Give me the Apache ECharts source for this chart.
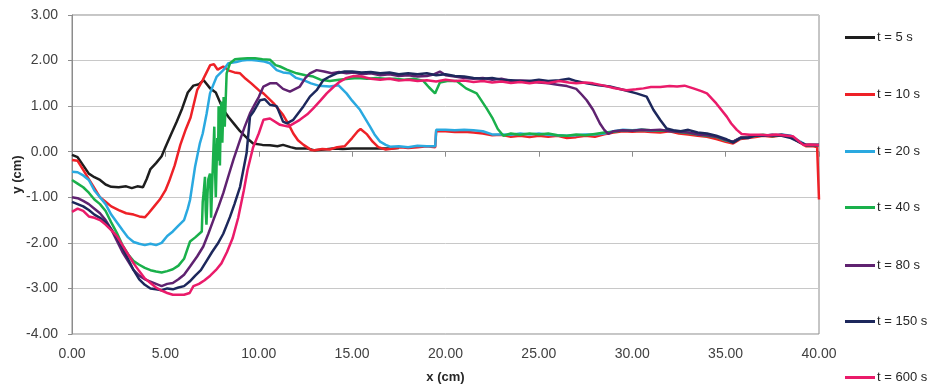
<!DOCTYPE html>
<html>
<head>
<meta charset="utf-8">
<script src="https://cdn.jsdelivr.net/npm/echarts/dist/echarts.min.js"></script>
<style>html,body{margin:0;padding:0;background:#fff}#c{width:932px;height:385px}</style>
</head>
<body>
<div id="c"></div>
<script>
const seriesNames = ['t = 5 s','t = 10 s','t = 20 s','t = 40 s','t = 80 s','t = 150 s','t = 600 s'];
const xTicks = [0,5,10,15,20,25,30,35,40];
const yTicks = [-4,-3,-2,-1,0,1,2,3];

const t5 = [[0,-0.07],[0.3,-0.12],[0.6,-0.3],[0.9,-0.48],[1.2,-0.56],[1.5,-0.62],[1.8,-0.72],[2.1,-0.77],[2.5,-0.78],[2.9,-0.76],[3.2,-0.8],[3.5,-0.76],[3.8,-0.78],[4.0,-0.6],[4.2,-0.38],[4.5,-0.25],[4.8,-0.1],[5.0,0.1],[5.3,0.38],[5.6,0.65],[5.9,0.95],[6.2,1.3],[6.5,1.45],[6.8,1.48],[7.05,1.57],[7.4,1.39],[7.7,1.3],[8.1,0.92],[8.4,0.75],[8.7,0.6],[9.0,0.45],[9.2,0.37],[9.5,0.25],[9.7,0.18],[10.2,0.15],[10.6,0.14],[11.0,0.12],[11.3,0.15],[11.7,0.1],[12.0,0.07],[12.6,0.07],[13.0,0.03],[13.5,0.05],[14.0,0.07],[14.5,0.06],[15,0.07],[16,0.07],[17,0.07],[17.5,0.08]];

const t10 = [[0,-0.18],[0.3,-0.2],[0.6,-0.4],[0.9,-0.6],[1.2,-0.8],[1.5,-1.0],[1.8,-1.1],[2.1,-1.2],[2.5,-1.28],[2.9,-1.35],[3.3,-1.38],[3.6,-1.42],[3.9,-1.44],[4.1,-1.35],[4.4,-1.2],[4.7,-1.05],[5.0,-0.85],[5.2,-0.65],[5.5,-0.3],[5.8,0.15],[6.1,0.5],[6.35,0.75],[6.7,1.35],[7.0,1.57],[7.4,1.9],[7.6,1.92],[7.8,1.8],[8.1,1.87],[8.4,1.78],[8.7,1.74],[9.0,1.72],[9.3,1.6],[9.6,1.5],[10.0,1.35],[10.25,1.28],[10.5,1.18],[10.8,1.06],[11.3,0.81],[11.6,0.6],[11.85,0.4],[12.1,0.25],[12.4,0.15],[12.8,0.04],[13.0,0.03],[13.4,0.06],[13.8,0.05],[14.2,0.1],[14.6,0.12],[15.0,0.3],[15.3,0.45],[15.45,0.5],[15.8,0.38],[16.1,0.22],[16.4,0.1],[16.8,0.05],[17.2,0.07],[17.6,0.1],[18.0,0.08],[18.5,0.1],[19.0,0.12],[19.45,0.1],[19.5,0.45],[20,0.45],[20.5,0.43],[21,0.44],[21.5,0.42],[22,0.4],[22.5,0.36],[23,0.37],[23.5,0.33],[24,0.35],[24.5,0.32],[25,0.35],[25.5,0.33],[26,0.35],[26.5,0.3],[27,0.32],[27.5,0.35],[28,0.33],[28.5,0.38],[29,0.42],[29.5,0.45],[30,0.44],[30.5,0.45],[31,0.43],[31.5,0.42],[32,0.45],[32.5,0.4],[33,0.38],[33.5,0.35],[34,0.33],[34.5,0.28],[35,0.22],[35.4,0.18],[35.8,0.28],[36.2,0.3],[36.6,0.32],[37,0.35],[37.5,0.33],[38,0.36],[38.5,0.32],[39,0.2],[39.3,0.12],[39.7,0.12],[39.9,0.1],[40,-1.05]];

const t20 = [[0,-0.44],[0.3,-0.45],[0.6,-0.52],[0.9,-0.62],[1.2,-0.85],[1.5,-1.0],[1.8,-1.15],[2.1,-1.38],[2.4,-1.55],[2.7,-1.72],[3.0,-1.88],[3.3,-1.98],[3.6,-2.02],[3.9,-2.05],[4.2,-2.02],[4.5,-2.05],[4.8,-2.0],[5.1,-1.85],[5.4,-1.75],[5.7,-1.62],[6.0,-1.5],[6.2,-1.25],[6.32,-1.06],[6.59,-0.33],[6.85,0.19],[7.0,0.4],[7.21,0.84],[7.39,1.28],[7.55,1.45],[7.75,1.65],[8.1,1.79],[8.37,1.94],[8.8,1.97],[9.1,2.0],[9.5,2.02],[9.9,2.0],[10.3,1.98],[10.6,1.94],[10.96,1.79],[11.3,1.74],[11.67,1.72],[12.0,1.62],[12.4,1.57],[12.8,1.5],[13.2,1.45],[13.8,1.43],[14.26,1.46],[14.7,1.28],[15.0,1.12],[15.42,0.92],[15.96,0.55],[16.2,0.38],[16.5,0.22],[16.8,0.15],[17.03,0.11],[17.5,0.12],[18,0.1],[18.5,0.13],[19,0.12],[19.45,0.12],[19.5,0.48],[20,0.48],[20.5,0.47],[21,0.48],[21.5,0.47],[22,0.45],[22.5,0.38],[23,0.38],[23.5,0.37],[24,0.4],[24.5,0.38],[25,0.4],[25.5,0.37],[26,0.36],[26.5,0.35],[27,0.36],[27.5,0.38],[28,0.38],[28.5,0.4],[29,0.45],[29.5,0.48],[30,0.47],[30.5,0.48],[31,0.46],[31.5,0.47],[32,0.47],[32.5,0.44],[33,0.42],[33.5,0.38],[34,0.36],[34.5,0.33],[35,0.25],[35.4,0.22],[35.8,0.3],[36.2,0.32],[36.6,0.35],[37,0.36],[37.5,0.35],[38,0.38],[38.5,0.35],[39,0.22],[39.3,0.15],[39.7,0.15],[40,0.15]];

const t40 = [[0,-0.62],[0.3,-0.7],[0.6,-0.78],[0.9,-0.9],[1.2,-1.05],[1.5,-1.15],[1.8,-1.3],[2.1,-1.55],[2.4,-1.78],[2.7,-2.05],[3.0,-2.25],[3.3,-2.4],[3.6,-2.48],[3.9,-2.55],[4.2,-2.6],[4.5,-2.63],[4.8,-2.65],[5.1,-2.62],[5.4,-2.58],[5.7,-2.5],[6.0,-2.35],[6.32,-1.97],[6.6,-1.88],[6.95,-1.75],[7.0,-1.1],[7.05,-0.9],[7.12,-0.55],[7.16,-1.3],[7.2,-1.6],[7.26,-0.9],[7.3,-0.6],[7.39,-0.48],[7.45,-1.45],[7.5,-0.8],[7.55,-0.2],[7.62,0.55],[7.66,-0.4],[7.7,-1.0],[7.78,0.3],[7.82,-0.2],[7.85,1.0],[7.92,-0.3],[7.96,0.6],[8.0,1.1],[8.05,0.2],[8.12,1.2],[8.18,0.55],[8.28,1.72],[8.46,1.94],[8.73,2.03],[9.0,2.04],[9.4,2.05],[9.8,2.05],[10.2,2.03],[10.6,2.02],[10.9,1.9],[11.14,1.87],[11.5,1.8],[12.03,1.72],[12.5,1.68],[12.92,1.65],[13.3,1.58],[13.8,1.55],[14.3,1.58],[14.8,1.6],[15.3,1.62],[15.8,1.6],[16.3,1.62],[16.8,1.6],[17.3,1.6],[17.8,1.58],[18.3,1.6],[18.8,1.56],[19.1,1.42],[19.44,1.28],[19.7,1.52],[20.1,1.55],[20.6,1.55],[21.1,1.39],[21.67,1.28],[22.2,0.95],[22.5,0.75],[22.8,0.5],[23.1,0.35],[23.5,0.4],[24,0.37],[24.5,0.4],[25,0.38],[25.5,0.4],[26,0.36],[26.5,0.35],[27,0.38],[27.5,0.36],[28,0.39],[28.5,0.42],[29,0.44],[29.5,0.47],[30,0.46],[30.5,0.48],[31,0.47],[31.5,0.46],[32,0.46],[32.5,0.43],[33,0.41],[33.5,0.38],[34,0.35],[34.5,0.32],[35,0.25],[35.4,0.22],[35.8,0.3],[36.2,0.33],[36.6,0.35],[37,0.37],[37.5,0.34],[38,0.37],[38.5,0.33],[39,0.2],[39.3,0.15],[40,0.15]];

const t80 = [[0,-1.0],[0.3,-1.02],[0.6,-1.08],[0.9,-1.15],[1.2,-1.25],[1.5,-1.35],[1.8,-1.5],[2.1,-1.7],[2.4,-1.95],[2.7,-2.2],[3.0,-2.4],[3.3,-2.6],[3.6,-2.72],[3.9,-2.8],[4.2,-2.85],[4.5,-2.9],[4.8,-2.95],[5.1,-2.9],[5.4,-2.88],[5.7,-2.8],[6.0,-2.7],[6.32,-2.52],[6.7,-2.3],[7.03,-2.08],[7.3,-1.8],[7.57,-1.5],[7.85,-1.2],[8.1,-0.91],[8.4,-0.5],[8.64,-0.18],[9.0,0.26],[9.25,0.55],[9.53,0.84],[9.8,1.05],[10.0,1.2],[10.25,1.43],[10.6,1.5],[10.96,1.5],[11.3,1.38],[11.67,1.32],[12.2,1.43],[12.5,1.62],[12.74,1.72],[13.1,1.79],[13.5,1.76],[13.9,1.72],[14.3,1.75],[14.7,1.72],[15.1,1.74],[15.5,1.7],[16,1.72],[16.5,1.68],[17,1.7],[17.5,1.66],[18,1.68],[18.5,1.65],[19,1.66],[19.4,1.7],[19.7,1.76],[20,1.68],[20.5,1.65],[21,1.62],[21.5,1.6],[22,1.62],[22.5,1.58],[23,1.6],[23.5,1.55],[24,1.56],[24.5,1.55],[25,1.52],[25.5,1.5],[26,1.47],[26.5,1.44],[27,1.38],[27.3,1.25],[27.56,1.13],[27.9,0.92],[28.27,0.62],[28.5,0.48],[28.72,0.39],[29,0.45],[29.5,0.47],[30,0.46],[30.5,0.48],[31,0.47],[31.5,0.48],[32,0.45],[32.5,0.44],[33,0.42],[33.5,0.38],[34,0.36],[34.5,0.33],[35,0.26],[35.4,0.22],[35.8,0.31],[36.2,0.32],[36.6,0.36],[37,0.36],[37.5,0.35],[38,0.37],[38.5,0.34],[39,0.2],[39.3,0.15],[40,0.15]];

const t150 = [[0,-1.1],[0.3,-1.15],[0.6,-1.2],[0.9,-1.28],[1.2,-1.38],[1.5,-1.45],[1.8,-1.55],[2.1,-1.7],[2.4,-1.88],[2.7,-2.1],[3.0,-2.35],[3.3,-2.6],[3.6,-2.8],[3.9,-2.92],[4.2,-3.0],[4.5,-3.02],[4.8,-3.04],[5.1,-3.0],[5.4,-3.02],[5.7,-2.98],[6.0,-2.95],[6.3,-2.85],[6.6,-2.72],[6.9,-2.6],[7.2,-2.4],[7.5,-2.2],[7.8,-2.02],[8.1,-1.8],[8.46,-1.43],[8.7,-1.15],[9.0,-0.77],[9.35,-0.03],[9.53,0.77],[9.75,0.9],[10.07,1.13],[10.33,1.15],[10.6,1.03],[10.96,1.0],[11.3,0.66],[11.5,0.62],[11.85,0.7],[12.4,1.0],[12.74,1.21],[13.1,1.35],[13.46,1.57],[13.8,1.65],[14.17,1.72],[14.6,1.76],[15,1.76],[15.5,1.74],[16,1.75],[16.5,1.72],[17,1.74],[17.5,1.7],[18,1.72],[18.5,1.7],[19,1.72],[19.5,1.68],[20,1.7],[20.5,1.66],[21,1.65],[21.5,1.62],[22,1.6],[22.5,1.62],[23,1.58],[23.5,1.57],[24,1.55],[24.5,1.55],[25,1.58],[25.5,1.55],[26.1,1.57],[26.6,1.6],[27,1.55],[27.56,1.5],[28.2,1.46],[28.8,1.43],[29.5,1.36],[30.23,1.28],[30.77,1.21],[31.13,0.92],[31.49,0.7],[31.84,0.51],[32.2,0.47],[32.6,0.45],[33,0.48],[33.5,0.42],[34,0.4],[34.5,0.35],[35,0.28],[35.4,0.2],[35.8,0.3],[36.2,0.3],[36.6,0.36],[37,0.35],[37.5,0.37],[38,0.35],[38.5,0.3],[39,0.2],[39.3,0.15],[40,0.15]];

const t600 = [[0,-1.32],[0.3,-1.25],[0.6,-1.3],[0.9,-1.42],[1.2,-1.45],[1.5,-1.5],[1.8,-1.6],[2.1,-1.72],[2.4,-1.85],[2.7,-2.05],[3.0,-2.25],[3.3,-2.45],[3.6,-2.62],[3.9,-2.78],[4.2,-2.88],[4.5,-2.98],[4.8,-3.05],[5.1,-3.1],[5.4,-3.14],[5.7,-3.14],[6.0,-3.14],[6.3,-3.1],[6.5,-2.95],[6.8,-2.9],[7.1,-2.82],[7.4,-2.72],[7.7,-2.6],[8.0,-2.45],[8.3,-2.2],[8.6,-1.9],[8.9,-1.45],[9.2,-0.85],[9.4,-0.4],[9.7,0.1],[10.0,0.4],[10.25,0.7],[10.6,0.73],[11.14,0.59],[11.58,0.55],[12.2,0.7],[12.6,0.82],[12.92,0.95],[13.3,1.12],[13.64,1.28],[14.0,1.42],[14.35,1.54],[14.7,1.62],[15.1,1.66],[15.5,1.65],[16,1.6],[16.5,1.58],[17,1.6],[17.5,1.56],[18,1.58],[18.5,1.55],[19,1.57],[19.5,1.54],[20,1.58],[20.5,1.55],[21,1.56],[21.5,1.53],[22,1.55],[22.5,1.52],[23,1.54],[23.5,1.51],[24,1.53],[24.5,1.5],[25,1.53],[25.5,1.51],[26.1,1.55],[26.6,1.52],[27,1.5],[27.5,1.52],[27.9,1.5],[28.5,1.45],[29,1.4],[29.7,1.35],[30.2,1.37],[30.6,1.39],[31,1.42],[31.5,1.42],[32,1.44],[32.4,1.43],[32.8,1.45],[33.27,1.39],[33.7,1.33],[34.0,1.28],[34.5,1.06],[35.06,0.77],[35.3,0.62],[35.6,0.48],[35.86,0.39],[36.3,0.37],[36.84,0.37],[37.3,0.36],[37.7,0.38],[38.3,0.35],[38.6,0.34],[39.16,0.15],[39.5,0.16],[40,0.15]];

const seriesData = [t5, t10, t20, t40, t80, t150, t600];
const colors = ['#1e1e1e','#ee2127','#2aa9e0','#1ab04b','#5f2270','#1d285c','#ea1b6a'];
const legendCenters = [38, 95, 152, 208, 266, 322, 378];

const chart = echarts.init(document.getElementById('c'), null, {renderer: 'canvas'});
const fontFam = '"Liberation Sans", Arial, sans-serif';
chart.setOption({
  animation: false,
  backgroundColor: '#fff',
  color: colors,
  grid: {left: 72, right: 113, top: 15, bottom: 51, show: true, borderColor: '#8c8c8c', borderWidth: 1, backgroundColor: 'transparent', outerBoundsMode: 'none', containLabel: false},
  legend: seriesNames.map((n, i) => ({
    orient: 'vertical', left: 845, top: legendCenters[i] - 7, itemWidth: 30, itemHeight: 14, padding: 0,
    icon: 'path://M0,6 L30,6 L30,9 L0,9 Z',
    textStyle: {fontFamily: fontFam, fontSize: 13, color: '#262626', padding: [0,0,0,-3]},
    data: [n]
  })),
  xAxis: {
    type: 'value', min: xTicks[0], max: xTicks[xTicks.length-1], interval: 5,
    name: 'x (cm)', nameLocation: 'middle', nameGap: 37, nameMoveOverlap: false,
    nameTextStyle: {fontFamily: fontFam, fontSize: 13, fontWeight: 'bold', color: '#262626'},
    axisLine: {lineStyle: {color: '#8c8c8c', width: 1}},
    axisTick: {show: true, length: 5, lineStyle: {color: '#8c8c8c'}},
    axisLabel: {fontFamily: fontFam, fontSize: 14, color: '#404040', margin: 13, formatter: v => v.toFixed(2)},
    splitLine: {show: false}
  },
  yAxis: {
    type: 'value', min: yTicks[0], max: yTicks[yTicks.length-1], interval: 1,
    name: 'y (cm)', nameLocation: 'middle', nameGap: 48, nameRotate: 90, nameMoveOverlap: false,
    nameTextStyle: {fontFamily: fontFam, fontSize: 13, fontWeight: 'bold', color: '#262626'},
    axisLine: {show: true, lineStyle: {color: '#8c8c8c', width: 1}},
    axisTick: {show: true, length: 4, lineStyle: {color: '#8c8c8c'}},
    axisLabel: {fontFamily: fontFam, fontSize: 14, color: '#404040', margin: 14, formatter: v => v.toFixed(2)},
    splitLine: {show: true, lineStyle: {color: '#c8c8c8', width: 1}}
  },
  series: seriesData.map((d, i) => ({
    name: seriesNames[i], type: 'line', data: d, symbol: 'none', smooth: false,
    lineStyle: {width: 2.5, color: colors[i]}, itemStyle: {color: colors[i]}
  }))
});
</script>
</body>
</html>
